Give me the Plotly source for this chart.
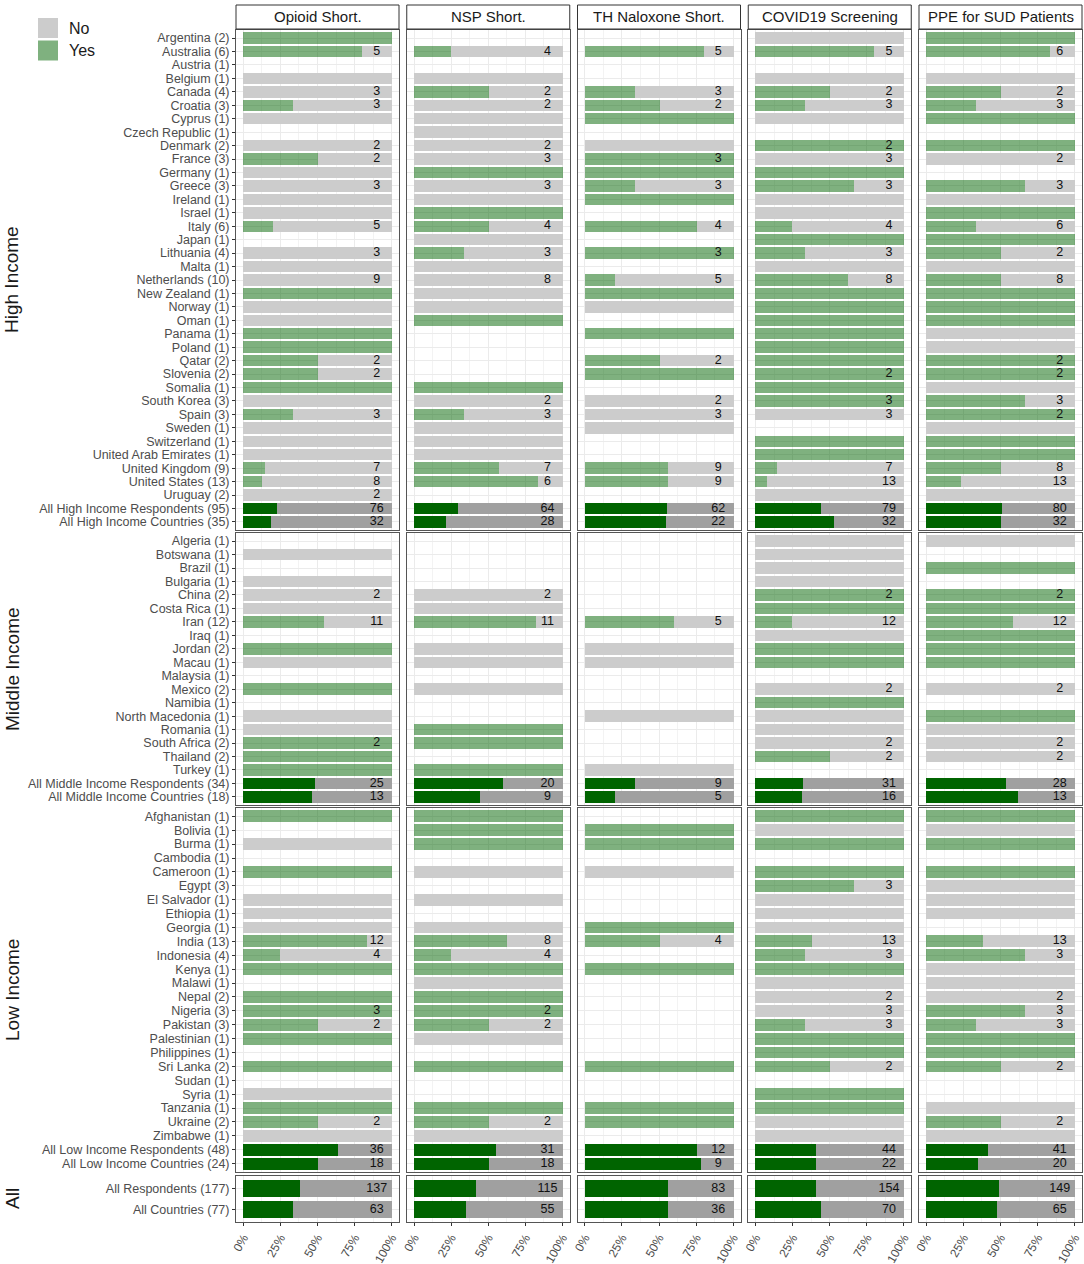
import plotly.graph_objects as go

# ============ Data: share of respondents answering "Yes" per country ============
# yes = number of "Yes" answers, n = number of answers (0 = no bar drawn)

measures = ["Opioid Short.", "NSP Short.", "TH Naloxone Short.",
            "COVID19 Screening", "PPE for SUD Patients"]
groups = ["High Income", "Middle Income", "Low Income", "All"]

high_labels = ["Argentina (2)", "Australia (6)", "Austria (1)", "Belgium (1)", "Canada (4)",
               "Croatia (3)", "Cyprus (1)", "Czech Republic (1)", "Denmark (2)", "France (3)",
               "Germany (1)", "Greece (3)", "Ireland (1)", "Israel (1)", "Italy (6)",
               "Japan (1)", "Lithuania (4)", "Malta (1)", "Netherlands (10)", "New Zealand (1)",
               "Norway (1)", "Oman (1)", "Panama (1)", "Poland (1)", "Qatar (2)",
               "Slovenia (2)", "Somalia (1)", "South Korea (3)", "Spain (3)", "Sweden (1)",
               "Switzerland (1)", "United Arab Emirates (1)", "United Kingdom (9)",
               "United States (13)", "Uruguay (2)", "All High Income Respondents (95)",
               "All High Income Countries (35)"]
high_opioid_yes = [1, 4, 0, 0, 0, 1, 0, 0, 0, 1, 0, 0, 0, 0, 1, 0, 0, 0, 0, 1,
                   0, 0, 1, 1, 1, 1, 1, 0, 1, 0, 0, 0, 1, 1, 0, 17, 6]
high_opioid_n = [1, 5, 0, 1, 3, 3, 1, 0, 2, 2, 1, 3, 1, 1, 5, 0, 3, 1, 9, 1,
                 1, 1, 1, 1, 2, 2, 1, 1, 3, 1, 1, 1, 7, 8, 2, 76, 32]
high_nsp_yes = [0, 1, 0, 0, 1, 0, 0, 0, 0, 0, 1, 0, 0, 1, 2, 0, 1, 0, 0, 0,
                0, 1, 0, 0, 0, 0, 1, 0, 1, 0, 0, 0, 4, 5, 0, 19, 6]
high_nsp_n = [0, 4, 0, 1, 2, 2, 1, 1, 2, 3, 1, 3, 1, 1, 4, 1, 3, 1, 8, 1,
              1, 1, 0, 0, 0, 0, 1, 2, 3, 1, 1, 1, 7, 6, 0, 64, 28]
high_th_yes = [0, 4, 0, 0, 1, 1, 1, 0, 0, 3, 1, 1, 1, 0, 3, 0, 3, 0, 1, 1,
               0, 0, 1, 0, 1, 1, 0, 0, 0, 0, 0, 0, 5, 5, 0, 34, 12]
high_th_n = [0, 5, 0, 0, 3, 2, 1, 0, 1, 3, 1, 3, 1, 0, 4, 0, 3, 0, 5, 1,
             1, 0, 1, 0, 2, 1, 0, 2, 3, 1, 0, 0, 9, 9, 0, 62, 22]
high_covid_yes = [0, 4, 0, 0, 1, 1, 0, 0, 2, 0, 1, 2, 0, 0, 1, 1, 1, 0, 5, 1,
                  1, 1, 1, 1, 1, 2, 1, 3, 0, 0, 1, 1, 1, 1, 0, 35, 17]
high_covid_n = [1, 5, 0, 1, 2, 3, 1, 0, 2, 3, 1, 3, 1, 1, 4, 1, 3, 1, 8, 1,
                1, 1, 1, 1, 1, 2, 1, 3, 3, 0, 1, 1, 7, 13, 1, 79, 32]
high_ppe_yes = [1, 5, 0, 0, 1, 1, 1, 0, 1, 0, 0, 2, 0, 1, 2, 1, 1, 0, 4, 1,
                1, 1, 0, 0, 2, 2, 0, 2, 2, 0, 1, 1, 4, 3, 0, 41, 16]
high_ppe_n = [1, 6, 0, 1, 2, 3, 1, 0, 1, 2, 0, 3, 1, 1, 6, 1, 2, 1, 8, 1,
              1, 1, 1, 1, 2, 2, 1, 3, 2, 1, 1, 1, 8, 13, 1, 80, 32]

mid_labels = ["Algeria (1)", "Botswana (1)", "Brazil (1)", "Bulgaria (1)", "China (2)",
              "Costa Rica (1)", "Iran (12)", "Iraq (1)", "Jordan (2)", "Macau (1)",
              "Malaysia (1)", "Mexico (2)", "Namibia (1)", "North Macedonia (1)",
              "Romania (1)", "South Africa (2)", "Thailand (2)", "Turkey (1)",
              "All Middle Income Respondents (34)", "All Middle Income Countries (18)"]
mid_opioid_yes = [0, 0, 0, 0, 0, 0, 6, 0, 1, 0, 0, 1, 0, 0, 0, 2, 1, 1, 12, 6]
mid_opioid_n = [0, 1, 0, 1, 2, 1, 11, 0, 1, 1, 0, 1, 0, 1, 1, 2, 1, 1, 25, 13]
mid_nsp_yes = [0, 0, 0, 0, 0, 0, 9, 0, 0, 0, 0, 0, 0, 0, 1, 1, 0, 1, 12, 4]
mid_nsp_n = [0, 0, 0, 0, 2, 1, 11, 0, 1, 1, 0, 1, 0, 0, 1, 1, 0, 1, 20, 9]
mid_th_yes = [0, 0, 0, 0, 0, 0, 3, 0, 0, 0, 0, 0, 0, 0, 0, 0, 0, 0, 3, 1]
mid_th_n = [0, 0, 0, 0, 0, 0, 5, 0, 1, 1, 0, 0, 0, 1, 0, 0, 0, 1, 9, 5]
mid_covid_yes = [0, 0, 0, 0, 2, 1, 3, 0, 1, 1, 0, 0, 1, 0, 0, 0, 1, 0, 10, 5]
mid_covid_n = [1, 1, 1, 1, 2, 1, 12, 1, 1, 1, 0, 2, 1, 1, 1, 2, 2, 0, 31, 16]
mid_ppe_yes = [0, 0, 1, 0, 2, 1, 7, 1, 1, 1, 0, 0, 0, 1, 0, 0, 0, 0, 15, 8]
mid_ppe_n = [1, 0, 1, 0, 2, 1, 12, 1, 1, 1, 0, 2, 0, 1, 1, 2, 2, 0, 28, 13]

low_labels = ["Afghanistan (1)", "Bolivia (1)", "Burma (1)", "Cambodia (1)", "Cameroon (1)",
              "Egypt (3)", "El Salvador (1)", "Ethiopia (1)", "Georgia (1)", "India (13)",
              "Indonesia (4)", "Kenya (1)", "Malawi (1)", "Nepal (2)", "Nigeria (3)",
              "Pakistan (3)", "Palestinian (1)", "Philippines (1)", "Sri Lanka (2)",
              "Sudan (1)", "Syria (1)", "Tanzania (1)", "Ukraine (2)", "Zimbabwe (1)",
              "All Low Income Respondents (48)", "All Low Income Countries (24)"]
low_opioid_yes = [1, 0, 0, 0, 1, 0, 0, 0, 0, 10, 1, 1, 0, 1, 3, 1, 1, 0, 1, 0, 0, 1, 1, 0, 23, 9]
low_opioid_n = [1, 0, 1, 0, 1, 0, 1, 1, 1, 12, 4, 1, 0, 1, 3, 2, 1, 0, 1, 0, 1, 1, 2, 1, 36, 18]
low_nsp_yes = [1, 1, 1, 0, 0, 0, 0, 0, 0, 5, 1, 1, 0, 1, 2, 1, 0, 0, 1, 0, 0, 1, 1, 0, 17, 9]
low_nsp_n = [1, 1, 1, 0, 1, 0, 1, 0, 1, 8, 4, 1, 1, 1, 2, 2, 1, 0, 1, 0, 0, 1, 2, 1, 31, 18]
low_th_yes = [0, 1, 1, 0, 0, 0, 0, 0, 1, 2, 0, 1, 0, 0, 0, 0, 0, 0, 1, 0, 0, 1, 1, 0, 9, 7]
low_th_n = [0, 1, 1, 0, 1, 0, 0, 0, 1, 4, 0, 1, 0, 0, 0, 0, 0, 0, 1, 0, 0, 1, 1, 0, 12, 9]
low_covid_yes = [1, 0, 1, 0, 1, 2, 0, 0, 0, 5, 1, 1, 0, 0, 0, 1, 1, 1, 1, 0, 1, 1, 0, 0, 18, 9]
low_covid_n = [1, 1, 1, 0, 1, 3, 1, 1, 1, 13, 3, 1, 1, 2, 3, 3, 1, 1, 2, 0, 1, 1, 1, 1, 44, 22]
low_ppe_yes = [1, 0, 1, 0, 1, 0, 0, 0, 0, 5, 2, 0, 0, 0, 2, 1, 1, 1, 1, 0, 0, 0, 1, 0, 17, 7]
low_ppe_n = [1, 1, 1, 0, 1, 1, 1, 1, 0, 13, 3, 1, 1, 2, 3, 3, 1, 1, 2, 0, 0, 1, 2, 1, 41, 20]

all_labels = ["All Respondents (177)", "All Countries (77)"]
all_opioid_yes = [52, 21]
all_opioid_n = [137, 63]
all_nsp_yes = [48, 19]
all_nsp_n = [115, 55]
all_th_yes = [46, 20]
all_th_n = [83, 36]
all_covid_yes = [63, 31]
all_covid_n = [154, 70]
all_ppe_yes = [73, 31]
all_ppe_n = [149, 65]

# table the loop below reads from
panel_rows = [
    (high_labels, [(high_opioid_yes, high_opioid_n), (high_nsp_yes, high_nsp_n),
                   (high_th_yes, high_th_n), (high_covid_yes, high_covid_n),
                   (high_ppe_yes, high_ppe_n)]),
    (mid_labels, [(mid_opioid_yes, mid_opioid_n), (mid_nsp_yes, mid_nsp_n),
                  (mid_th_yes, mid_th_n), (mid_covid_yes, mid_covid_n),
                  (mid_ppe_yes, mid_ppe_n)]),
    (low_labels, [(low_opioid_yes, low_opioid_n), (low_nsp_yes, low_nsp_n),
                  (low_th_yes, low_th_n), (low_covid_yes, low_covid_n),
                  (low_ppe_yes, low_ppe_n)]),
    (all_labels, [(all_opioid_yes, all_opioid_n), (all_nsp_yes, all_nsp_n),
                  (all_th_yes, all_th_n), (all_covid_yes, all_covid_n),
                  (all_ppe_yes, all_ppe_n)]),
]

# ============ Layout geometry (pixels) ============
W, H = 1084, 1264
col_px = [(236, 399), (406.75, 569.75), (577.5, 740.5), (748.25, 911.25), (919, 1082)]
row_px = [(30, 530), (533, 805), (808, 1172), (1176, 1222)]

YES = "rgba(0,100,0,0.5)"
NO = "#cccccc"
YES_ALL = "#006400"
NO_ALL = "#a0a0a0"
FONT = "Liberation Sans, Arial, sans-serif"
TICK_GREY = "#4d4d4d"
BORDER = "#555555"

fig = go.Figure()
layout = {}

for r, (labels, cols) in enumerate(panel_rows):
    n_cat = len(labels)
    for c, (yes, n) in enumerate(cols):
        k = r * 5 + c + 1
        xref = "x" if k == 1 else f"x{k}"
        yref = "y" if k == 1 else f"y{k}"
        agg_start = 0 if r == 3 else n_cat - 2

        ys, fy, fn, cy, cn = [], [], [], [], []
        for i in range(n_cat):
            if n[i] == 0:
                continue
            ys.append(i)
            fy.append(yes[i] / n[i])
            fn.append(1 - yes[i] / n[i])
            cy.append(YES_ALL if i >= agg_start else YES)
            cn.append(NO_ALL if i >= agg_start else NO)

        fig.add_trace(go.Bar(x=fy, y=ys, base=[0] * len(ys), orientation="h",
                             marker=dict(color=cy, line=dict(width=0)), width=0.85,
                             xaxis=xref, yaxis=yref, showlegend=False, name="Yes"))
        fig.add_trace(go.Bar(x=fn, y=ys, base=fy, orientation="h",
                             marker=dict(color=cn, line=dict(width=0)), width=0.85,
                             xaxis=xref, yaxis=yref, showlegend=False, name="No"))

        ty = [i for i in range(n_cat) if n[i] > 1]
        fig.add_trace(go.Scatter(x=[0.9] * len(ty), y=ty, text=[str(n[i]) for i in ty],
                                 mode="text", textposition="middle center",
                                 textfont=dict(family=FONT, size=12.5, color="#111111"),
                                 xaxis=xref, yaxis=yref, showlegend=False, hoverinfo="skip"))

        x0, x1 = col_px[c]
        y0, y1 = row_px[r]
        bottom = r == 3
        layout["xaxis" if k == 1 else f"xaxis{k}"] = dict(
            domain=[x0 / W, x1 / W], anchor=yref, range=[-0.05, 1.05],
            tickvals=[0, 0.25, 0.5, 0.75, 1],
            ticktext=["0%", "25%", "50%", "75%", "100%"],
            showticklabels=bottom, ticks="outside" if bottom else "",
            ticklen=3, tickcolor="#333333", tickangle=-60,
            tickfont=dict(family=FONT, size=12, color=TICK_GREY),
            showgrid=True, gridcolor="#ebebeb", gridwidth=1,
            minor=dict(tickvals=[0.125, 0.375, 0.625, 0.875], showgrid=True,
                       gridcolor="#f3f3f3", gridwidth=0.6),
            zeroline=False, showline=True, mirror=True, linecolor=BORDER, linewidth=1,
            automargin=False, fixedrange=True)
        layout["yaxis" if k == 1 else f"yaxis{k}"] = dict(
            domain=[1 - y1 / H, 1 - y0 / H], anchor=xref,
            range=[n_cat - 1 + 0.6, -0.6],
            tickvals=list(range(n_cat)), ticktext=labels,
            showticklabels=(c == 0), ticks="outside" if c == 0 else "",
            ticklen=3, tickcolor="#333333",
            tickfont=dict(family=FONT, size=12.5, color=TICK_GREY),
            showgrid=True, gridcolor="#ebebeb", gridwidth=1,
            zeroline=False, showline=True, mirror=True, linecolor=BORDER, linewidth=1,
            automargin=False, fixedrange=True)

shapes = []
annotations = []

# facet strips along the top
for c, title in enumerate(measures):
    x0, x1 = col_px[c]
    shapes.append(dict(type="rect", xref="paper", yref="paper",
                       x0=x0 / W, x1=x1 / W, y0=1 - 29 / H, y1=1 - 5 / H,
                       fillcolor="white", line=dict(color="#333333", width=1)))
    annotations.append(dict(text=title, xref="paper", yref="paper",
                            x=(x0 + x1) / 2 / W, y=1 - 17 / H, showarrow=False,
                            xanchor="center", yanchor="middle",
                            font=dict(family=FONT, size=15, color="#1a1a1a")))

# income group labels on the left
for r, g in enumerate(groups):
    y0, y1 = row_px[r]
    annotations.append(dict(text=g, xref="paper", yref="paper", x=12 / W,
                            y=1 - (y0 + y1) / 2 / H, textangle=-90, showarrow=False,
                            xanchor="center", yanchor="middle",
                            font=dict(family=FONT, size=19, color="#1a1a1a")))

# legend drawn by hand (big square keys)
for (txt, col, top) in [("No", NO, 18), ("Yes", YES, 40.5)]:
    shapes.append(dict(type="rect", xref="paper", yref="paper",
                       x0=38 / W, x1=58 / W, y0=1 - (top + 20) / H, y1=1 - top / H,
                       fillcolor=col, line=dict(width=0)))
    annotations.append(dict(text=txt, xref="paper", yref="paper", x=67 / W,
                            y=1 - (top + 10) / H, xanchor="left", yanchor="middle",
                            showarrow=False,
                            font=dict(family=FONT, size=16, color="#1a1a1a")))

fig.update_layout(
    width=W, height=H,
    margin=dict(l=0, r=0, t=0, b=0),
    paper_bgcolor="white", plot_bgcolor="white",
    barmode="overlay", bargap=0,
    showlegend=False,
    shapes=shapes, annotations=annotations,
    font=dict(family=FONT),
    **layout,
)

# drop the browser's default 8px body margin so the figure sits at the page origin
fig.write_html("out.html", config={"displayModeBar": False},
               post_script="document.body.style.margin='0';")
